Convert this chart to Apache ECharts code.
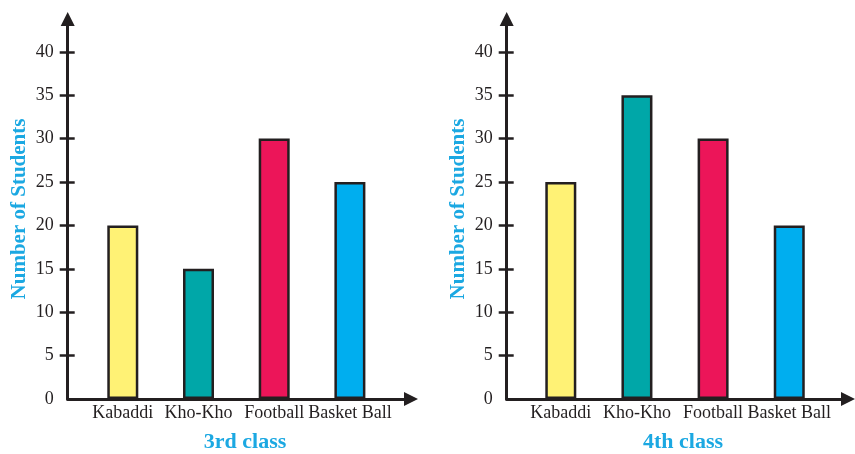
<!DOCTYPE html>
<html>
<head>
<meta charset="utf-8">
<style>
  html, body { margin: 0; padding: 0; background: #ffffff; }
  #chart { width: 855px; height: 454px; }
</style>
<script src="https://cdn.jsdelivr.net/npm/echarts@6/dist/echarts.min.js"></script>
</head>
<body>
<div id="chart"></div>
<script>
// Games played by students in two classes
const categories = ['Kabaddi', 'Kho-Kho', 'Football', 'Basket Ball'];
const thirdClass = [20, 15, 30, 25];
const fourthClass = [25, 35, 30, 20];
const yTickValues = [0, 5, 10, 15, 20, 25, 30, 35, 40];
const classTitles = ['3rd class', '4th class'];
const yAxisTitle = 'Number of Students';

const barColors = ['#fff275', '#00a7a8', '#ec1559', '#00aeef'];
const ink = '#231f20';
const accent = '#1ba8e2';
const serif = '"Liberation Serif", "DejaVu Serif", serif';

// Panel geometry: axis origin, axis end, first bar centre and bar spacing (px)
const panels = [
  { left: 67.7, right: 411, firstCenter: 122.8, step: 75.7, titleX: 245 },
  { left: 506.7, right: 848, firstCenter: 560.8, step: 76.15, titleX: 683 }
];
const plotTop = 19, plotBottom = 399;
const pxPerUnit = 8.68; // vertical pixels per student
const yMax = (plotBottom - plotTop) / pxPerUnit;

const grids = [], xAxes = [], yAxes = [], series = [], titles = [];

panels.forEach((p, k) => {
  grids.push({ left: p.left, top: plotTop, width: p.right - p.left, height: plotBottom - plotTop });

  const xMin = -(p.firstCenter - p.left) / p.step;
  const xMax = xMin + (p.right - p.left) / p.step;
  xAxes.push({
    gridIndex: k, type: 'value', min: xMin, max: xMax,
    axisLine: { show: true, onZero: false, symbol: ['none', 'triangle'], symbolSize: [14, 14],
      lineStyle: { color: ink, width: 3 } },
    axisTick: { show: false },
    splitLine: { show: false },
    axisLabel: {
      customValues: categories.map((c, i) => i),
      formatter: v => categories[Math.round(v)] || '',
      color: ink, fontFamily: serif, fontSize: 18, margin: 5
    }
  });

  // main y axis: labels, outward ticks, arrowed line
  yAxes.push({
    gridIndex: k, type: 'value', min: 0, max: yMax, position: 'left',
    name: yAxisTitle, nameLocation: 'middle', nameGap: 38, nameRotate: 90,
    nameTextStyle: { color: accent, fontFamily: serif, fontWeight: 'bold', fontSize: 21 },
    axisLine: { show: true, onZero: false, symbol: ['none', 'triangle'], symbolSize: [14, 14],
      lineStyle: { color: ink, width: 3 } },
    axisTick: { show: true, length: 8, customValues: yTickValues.filter(v => v > 0),
      lineStyle: { color: ink, width: 2.5 } },
    splitLine: { show: false },
    axisLabel: { customValues: yTickValues, color: ink, fontFamily: serif, fontSize: 18, margin: 14 }
  });
  // companion y axis: inward half of each tick mark
  yAxes.push({
    gridIndex: k, type: 'value', min: 0, max: yMax, position: 'left', offset: 0,
    axisLine: { show: false, onZero: false },
    axisTick: { show: true, inside: true, length: 7, customValues: yTickValues.filter(v => v > 0),
      lineStyle: { color: ink, width: 2.5 } },
    axisLabel: { show: false },
    splitLine: { show: false }
  });

  const values = k === 0 ? thirdClass : fourthClass;
  series.push({
    type: 'bar', xAxisIndex: k, yAxisIndex: 2 * k,
    barWidth: 31,
    data: values.map((v, i) => ({
      value: [i, v],
      itemStyle: { color: barColors[i], borderColor: ink, borderWidth: 2.5 }
    })),
    silent: true, animation: false
  });

  titles.push({
    text: classTitles[k], left: p.titleX, top: 431, textAlign: 'center', padding: 0,
    textStyle: { color: accent, fontFamily: serif, fontWeight: 'bold', fontSize: 22 }
  });
});

const chart = echarts.init(document.getElementById('chart'), null, { renderer: 'canvas' });
chart.setOption({
  backgroundColor: '#ffffff',
  animation: false,
  title: titles,
  grid: grids,
  xAxis: xAxes,
  yAxis: yAxes,
  series: series
});
</script>
</body>
</html>
